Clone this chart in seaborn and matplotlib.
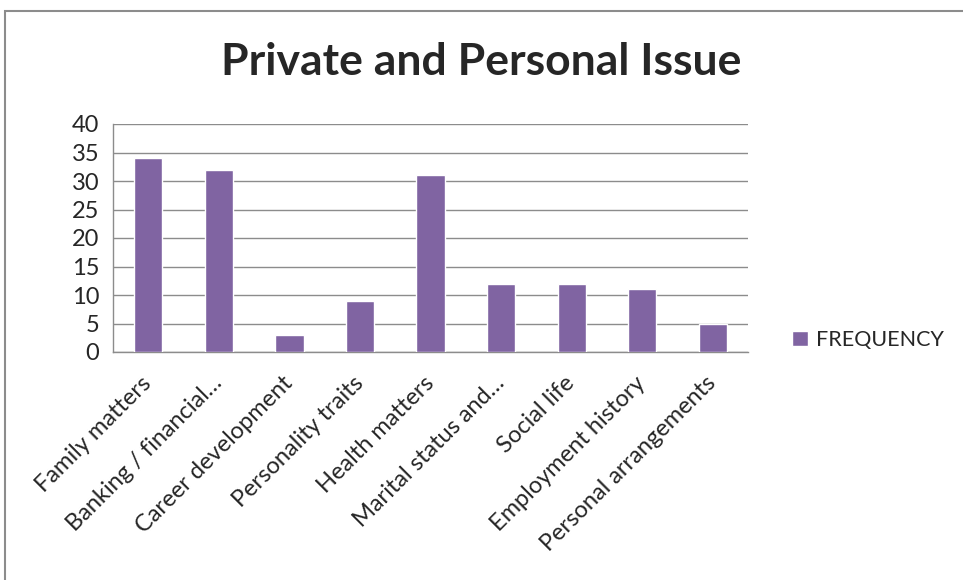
import numpy as np
import pandas as pd
import matplotlib.pyplot as plt
import seaborn as sns
from matplotlib.patches import Rectangle, Patch

# data
categories = ["Family matters", "Banking / financial\u2026", "Career development",
              "Personality traits", "Health matters", "Marital status and\u2026",
              "Social life", "Employment history", "Personal arrangements"]
frequency = [34, 32, 3, 9, 31, 12, 12, 11, 5]
y_ticks = [0, 5, 10, 15, 20, 25, 30, 35, 40]

df = pd.DataFrame({"issue": categories, "FREQUENCY": frequency})

sns.set_style("white")
plt.rcParams['font.family'] = ['Lato', 'DejaVu Sans']

fig = plt.figure(figsize=(9.63, 5.8), dpi=100)
W, H = 963, 580
ax = fig.add_axes([113 / W, (H - 352) / H, 635 / W, 228 / H])

sns.barplot(data=df, x="issue", y="FREQUENCY", color="#8064A2", width=0.4,
            saturation=1, ax=ax, zorder=3)

ax.set_ylim(0, 40)
ax.set_xlim(-0.5, len(categories) - 0.5)
ax.set_yticks(y_ticks)
ax.set_yticklabels([str(v) for v in y_ticks], fontsize=17)
ax.yaxis.grid(True, color="#8c8c8c", linewidth=1, zorder=0)
ax.set_axisbelow(True)

# ticks between categories on x
ax.set_xticks(range(len(categories)))
ax.set_xticklabels(categories, rotation=45, ha="right", va="center",
                   rotation_mode="anchor", fontsize=17)
ax.tick_params(axis="x", which="major", length=0, pad=20)
ax.set_xticks(np.arange(-0.5, len(categories)), minor=True)
ax.tick_params(axis="x", which="minor", length=7, color="#8c8c8c", width=1)
ax.tick_params(axis="y", length=7, color="#8c8c8c", width=1, pad=3)

for s in ["top", "right"]:
    ax.spines[s].set_visible(False)
for s in ["left", "bottom"]:
    ax.spines[s].set_color("#8c8c8c")
    ax.spines[s].set_linewidth(1)
ax.set_xlabel("")
ax.set_ylabel("")

fig.text(0.5, 1 - 62 / H, "Private and Personal Issue", ha="center", va="center",
         fontsize=32, fontweight="bold")

handles = [Patch(facecolor="#8064A2", label="FREQUENCY")]
fig.legend(handles=handles, loc="center left", bbox_to_anchor=(775 / W, 1 - 340 / H),
           frameon=False, fontsize=15.5, handlelength=0.75, handleheight=0.75,
           handletextpad=0.35, borderpad=0.3)

# outer chart frame
fig.patches.append(Rectangle((5 / W, -0.05), 1.1, 1 - 11 / H + 0.05,
                             transform=fig.transFigure, fill=False,
                             edgecolor="#8c8c8c", linewidth=1.5))

fig.savefig("out.png", dpi=100)
